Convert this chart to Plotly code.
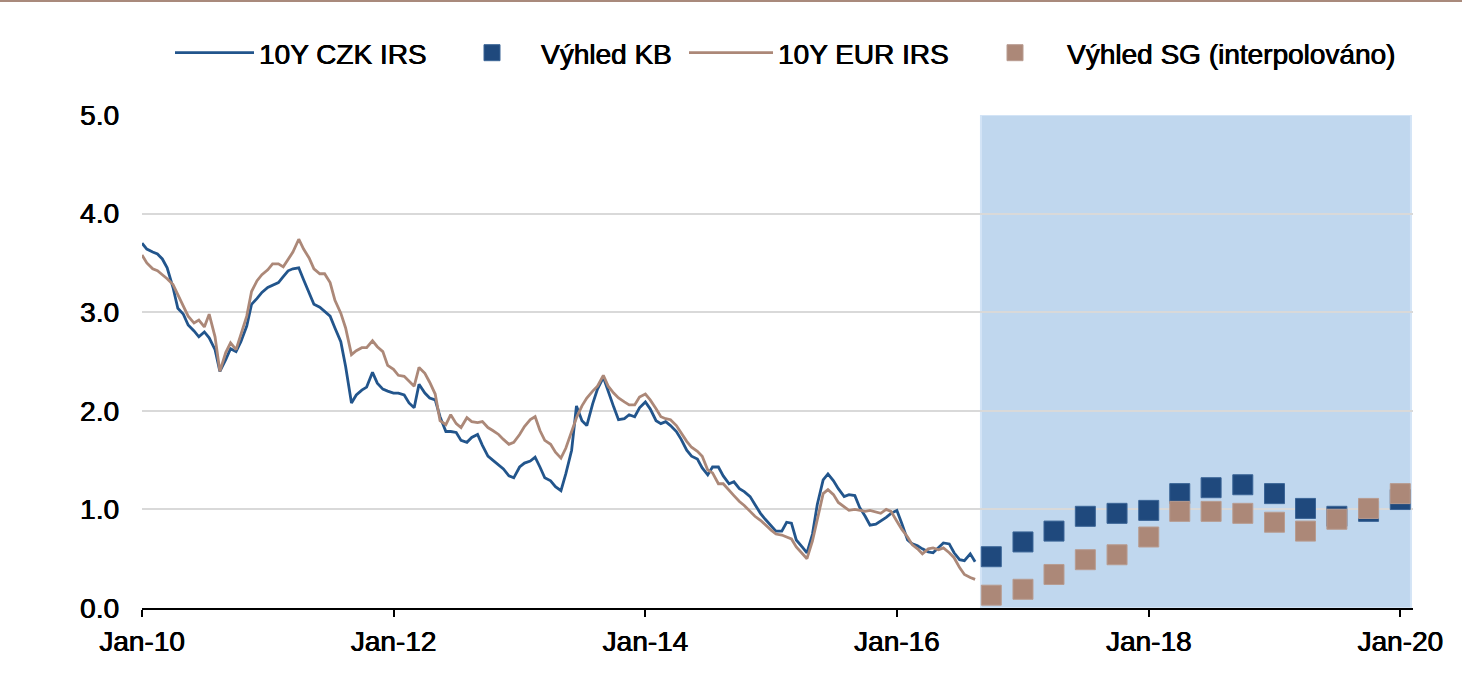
import pandas as pd
import plotly.graph_objects as go

# ---------------- data ----------------
# semi-monthly observations (1st and 15th of each month), Jan 2010 - Aug 2016
hist_dates = pd.date_range("2010-01-01", periods=160, freq="SMS")

czk_irs = [
    3.70, 3.64, 3.61, 3.59, 3.54, 3.45, 3.25, 3.04, 2.98, 2.87,
    2.81, 2.75, 2.80, 2.74, 2.62, 2.40, 2.52, 2.63, 2.60, 2.70,
    2.86, 3.08, 3.14, 3.20, 3.25, 3.27, 3.30, 3.36, 3.42, 3.44,
    3.45, 3.33, 3.20, 3.08, 3.05, 3.01, 2.96, 2.84, 2.70, 2.45,
    2.08, 2.16, 2.21, 2.24, 2.39, 2.28, 2.22, 2.20, 2.18, 2.18,
    2.16, 2.08, 2.03, 2.27, 2.18, 2.13, 2.11, 1.94, 1.79, 1.79,
    1.78, 1.70, 1.68, 1.73, 1.76, 1.65, 1.54, 1.50, 1.45, 1.41,
    1.34, 1.32, 1.43, 1.47, 1.49, 1.53, 1.43, 1.32, 1.29, 1.23,
    1.19, 1.36, 1.60, 2.05, 1.90, 1.85, 2.07, 2.22, 2.34, 2.19,
    2.04, 1.91, 1.92, 1.96, 1.94, 2.03, 2.09, 2.02, 1.90, 1.87,
    1.89, 1.85, 1.79, 1.71, 1.60, 1.54, 1.51, 1.42, 1.35, 1.43,
    1.43, 1.34, 1.26, 1.28, 1.21, 1.18, 1.13, 1.05, 0.96, 0.90,
    0.84, 0.78, 0.78, 0.87, 0.86, 0.69, 0.62, 0.56, 0.75, 1.05,
    1.30, 1.36, 1.29, 1.21, 1.13, 1.15, 1.14, 1.02, 0.93, 0.84,
    0.85, 0.88, 0.92, 0.96, 0.99, 0.86, 0.69, 0.65, 0.63, 0.60,
    0.57, 0.56, 0.61, 0.66, 0.65, 0.56, 0.49, 0.48, 0.55, 0.47,
]

eur_irs = [
    3.58, 3.50, 3.44, 3.42, 3.38, 3.34, 3.28, 3.18, 3.07, 2.96,
    2.89, 2.92, 2.85, 2.98, 2.75, 2.40, 2.59, 2.69, 2.62, 2.78,
    2.96, 3.21, 3.32, 3.38, 3.43, 3.49, 3.49, 3.46, 3.54, 3.61,
    3.74, 3.64, 3.55, 3.44, 3.39, 3.39, 3.30, 3.12, 2.99, 2.84,
    2.57, 2.61, 2.64, 2.64, 2.71, 2.65, 2.60, 2.46, 2.42, 2.36,
    2.35, 2.30, 2.25, 2.44, 2.38, 2.29, 2.17, 1.90, 1.86, 1.96,
    1.87, 1.83, 1.93, 1.89, 1.88, 1.89, 1.83, 1.80, 1.76, 1.71,
    1.66, 1.68, 1.76, 1.84, 1.91, 1.94, 1.80, 1.70, 1.66, 1.58,
    1.52, 1.62, 1.79, 1.93, 2.05, 2.13, 2.20, 2.25, 2.36, 2.25,
    2.18, 2.13, 2.09, 2.06, 2.06, 2.14, 2.17, 2.11, 2.02, 1.94,
    1.92, 1.91, 1.85, 1.77, 1.69, 1.63, 1.59, 1.54, 1.40, 1.37,
    1.26, 1.26, 1.19, 1.14, 1.08, 1.04, 0.98, 0.93, 0.89, 0.84,
    0.79, 0.75, 0.74, 0.72, 0.70, 0.62, 0.56, 0.50, 0.68, 0.90,
    1.16, 1.20, 1.15, 1.07, 1.03, 0.99, 1.00, 0.99, 0.98, 0.99,
    0.97, 0.96, 1.00, 0.98, 0.88, 0.80, 0.72, 0.64, 0.60, 0.55,
    0.60, 0.61, 0.59, 0.61, 0.56, 0.51, 0.41, 0.34, 0.31, 0.29,
]

outlook_dates = [
    "2016-10-01", "2017-01-01", "2017-04-01", "2017-07-01", "2017-10-01",
    "2018-01-01", "2018-04-01", "2018-07-01", "2018-10-01", "2019-01-01",
    "2019-04-01", "2019-07-01", "2019-10-01", "2020-01-01",
]
kb_outlook = [0.52, 0.67, 0.78, 0.93, 0.96, 0.99, 1.16, 1.22, 1.25, 1.16,
              1.01, 0.93, 0.98, 1.10]
sg_outlook = [0.13, 0.19, 0.34, 0.49, 0.54, 0.72, 0.98, 0.98, 0.96, 0.87,
              0.78, 0.90, 1.01, 1.16]

forecast_start = "2016-09-01"
forecast_end = "2020-02-01"

x_ticks = ["2010-01-01", "2012-01-01", "2014-01-01", "2016-01-01",
           "2018-01-01", "2020-01-01"]
y_ticks = [0, 1, 2, 3, 4, 5]

# ---------------- style ----------------
BLUE_LINE = "#22558C"
BLUE_MARK = "#1F497D"
BROWN = "#AC8878"
SHADE = "#C0D7EE"
FONT_FAMILY = "Liberation Sans, Arial, sans-serif"
SHADOW = "0.5px 0 0 black, -0.2px 0 0 black"


def font(size=28):
    return dict(family=FONT_FAMILY, size=size, color="black", shadow=SHADOW)


W, H = 1484, 695
L, R, T, B = 142, 71, 115, 87
PW, PH = W - L - R, H - T - B


def px_x(p):
    return (p - L) / PW


def px_y(p):
    return (H - B - p) / PH


fig = go.Figure()

fig.add_trace(go.Scatter(
    x=hist_dates, y=czk_irs, mode="lines", name="10Y CZK IRS",
    line=dict(color=BLUE_LINE, width=2.8), legend="legend",
))
fig.add_trace(go.Scatter(
    x=outlook_dates, y=kb_outlook, mode="markers", name="Výhled KB",
    marker=dict(symbol="square", size=20, color=BLUE_MARK,
                line=dict(width=1, color="#3A6496")),
    legend="legend2", cliponaxis=False,
))
fig.add_trace(go.Scatter(
    x=hist_dates, y=eur_irs, mode="lines", name="10Y EUR IRS",
    line=dict(color=BROWN, width=2.8), legend="legend3",
))
fig.add_trace(go.Scatter(
    x=outlook_dates, y=sg_outlook, mode="markers",
    name="Výhled SG (interpolováno)",
    marker=dict(symbol="square", size=20, color=BROWN,
                line=dict(width=1, color="#B89C90")),
    legend="legend4", cliponaxis=False,
))

# forecast shading
fig.add_shape(type="rect", xref="x", yref="y",
              x0=forecast_start, x1=forecast_end, y0=0, y1=5,
              fillcolor=SHADE, line=dict(color="#D3E4F6", width=2),
              layer="below")
# thin brown rule at the very top of the figure
fig.add_shape(type="line", xref="paper", yref="paper",
              x0=px_x(0), x1=px_x(1462), y0=px_y(1), y1=px_y(1),
              line=dict(color="#A98A7C", width=2))

legend_common = dict(
    orientation="h", yanchor="middle", y=px_y(53), xanchor="left",
    font=font(28),
    bgcolor="rgba(0,0,0,0)", borderwidth=0, tracegroupgap=0,
)

fig.update_layout(
    width=W, height=H,
    margin=dict(l=L, r=R, t=T, b=B),
    paper_bgcolor="white", plot_bgcolor="white",
    font=font(28),
    showlegend=True,
    legend=dict(x=px_x(170), itemwidth=79, **legend_common),
    legend2=dict(x=px_x(443), itemwidth=88, **legend_common),
    legend3=dict(x=px_x(684), itemwidth=84, **legend_common),
    legend4=dict(x=px_x(963), itemwidth=94, **legend_common),
    xaxis=dict(
        type="date", range=["2010-01-01", "2020-02-07"],
        tickvals=x_ticks, tickformat="%b-%y",
        showgrid=False, showline=True, linecolor="black", linewidth=2,
        ticks="outside", ticklen=7, tickwidth=2, tickcolor="black",
        tickfont=font(28),
        zeroline=False,
    ),
    yaxis=dict(
        range=[0, 5], tickvals=y_ticks, tickformat=".1f",
        showgrid=True, gridcolor="#D9D9D9", gridwidth=2,
        zeroline=False, showline=False, ticks="",
        tickfont=font(28),
        ticklabelstandoff=22,
    ),
)

fig.write_html("out.html")
